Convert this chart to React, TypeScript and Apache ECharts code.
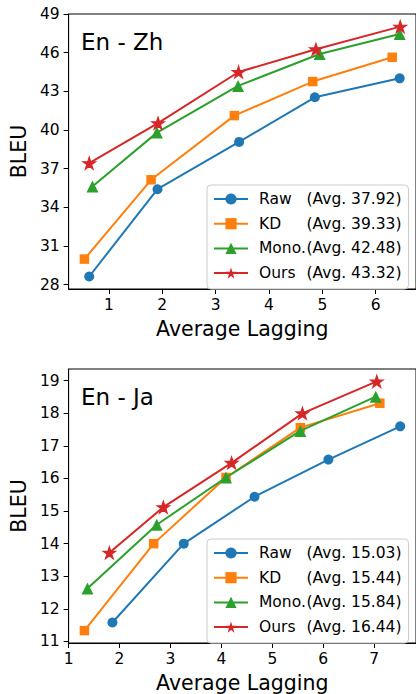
import React, { useEffect, useRef } from "react";
import * as echarts from "echarts";

const seriesNames = ["Raw", "KD", "Mono.", "Ours"];
const colors = ["#1f77b4", "#ff7f0e", "#2ca02c", "#d62728"];

// En - Zh
const rawZhX = [0.63, 1.91, 3.44, 4.86, 6.45];
const rawZhY = [28.64, 35.41, 39.08, 42.54, 44.01];
const kdZhX = [0.54, 1.79, 3.35, 4.82, 6.31];
const kdZhY = [29.99, 36.14, 41.12, 43.76, 45.64];
const monoZhX = [0.69, 1.9, 3.42, 4.95, 6.45];
const monoZhY = [35.62, 39.8, 43.42, 45.9, 47.45];
const oursZhX = [0.63, 1.92, 3.43, 4.88, 6.46];
const oursZhY = [37.43, 40.53, 44.5, 46.26, 48.02];
const avgZh = ["37.92", "39.33", "42.48", "43.32"];

// En - Ja
const rawJaX = [1.86, 3.26, 4.65, 6.1, 7.51];
const rawJaY = [11.58, 14.0, 15.44, 16.58, 17.6];
const kdJaX = [1.31, 2.67, 4.09, 5.55, 7.11];
const kdJaY = [11.33, 14.0, 16.03, 17.56, 18.31];
const monoJaX = [1.37, 2.73, 4.09, 5.55, 7.03];
const monoJaY = [12.62, 14.58, 16.03, 17.46, 18.51];
const oursJaX = [1.8, 2.86, 4.2, 5.59, 7.05];
const oursJaY = [13.72, 15.12, 16.48, 18.0, 18.98];
const avgJa = ["15.03", "15.44", "15.84", "16.44"];

const zhXTicks = [1, 2, 3, 4, 5, 6];
const zhYTicks = [28, 31, 34, 37, 40, 43, 46, 49];
const jaXTicks = [1, 2, 3, 4, 5, 6, 7];
const jaYTicks = [11, 12, 13, 14, 15, 16, 17, 18, 19];

const FONT = "DejaVu Sans";
const STAR =
  "path://M0,-1L0.2245,-0.309L0.9511,-0.309L0.3633,0.118L0.5878,0.809L0,0.382L-0.5878,0.809L-0.3633,0.118L-0.9511,-0.309L-0.2245,-0.309Z";
const symbols = ["circle", "rect", "triangle", STAR];
const symbolSizes: any[] = [10, 9.5, 12, [12.5, 11.9]];
const borderWidths = [0, 0, 0, 1.2];

const zip = (xs: number[], ys: number[]) => xs.map((x, i) => [x, ys[i]]);

export default function App() {
  const ref = useRef<HTMLDivElement>(null);
  useEffect(() => {
    if (!ref.current) return;
    const chart = echarts.init(ref.current, null, { renderer: "svg" });
    const zh = [zip(rawZhX, rawZhY), zip(kdZhX, kdZhY), zip(monoZhX, monoZhY), zip(oursZhX, oursZhY)];
    const ja = [zip(rawJaX, rawJaY), zip(kdJaX, kdJaY), zip(monoJaX, monoJaY), zip(oursJaX, oursJaY)];

    const mkSeries = (data: number[][][], idx: number) =>
      data.map((d, i) => ({
        type: "line",
        name: seriesNames[i],
        xAxisIndex: idx,
        yAxisIndex: idx,
        data: d,
        symbol: symbols[i],
        symbolSize: symbolSizes[i],
        showSymbol: true,
        lineStyle: { color: colors[i], width: 2 },
        itemStyle: { color: colors[i], borderColor: colors[i], borderWidth: borderWidths[i] },
        z: 2 + i,
      }));

    const mkX = (idx: number, min: number, max: number, ticks: number[]) => ({
      type: "value",
      gridIndex: idx,
      min,
      max,
      name: "Average Lagging",
      nameLocation: "middle",
      nameGap: 29,
      nameTextStyle: { fontFamily: FONT, fontSize: 20.5, color: "#000" },
      axisLine: { show: true, onZero: false, lineStyle: { color: "#000", width: 1 } },
      axisTick: { show: true, length: 5, customValues: ticks, lineStyle: { color: "#000" } },
      axisLabel: { customValues: ticks, fontFamily: FONT, fontSize: 15.5, color: "#000", margin: 8 },
      splitLine: { show: false },
    });
    const mkY = (idx: number, min: number, max: number, ticks: number[]) => ({
      type: "value",
      gridIndex: idx,
      min,
      max,
      name: "BLEU",
      nameLocation: "middle",
      nameRotate: 90,
      nameGap: 33,
      nameTextStyle: { fontFamily: FONT, fontSize: 20.5, color: "#000" },
      axisLine: { show: true, onZero: false, lineStyle: { color: "#000", width: 1 } },
      axisTick: { show: true, length: 5, customValues: ticks, lineStyle: { color: "#000" } },
      axisLabel: {
        customValues: ticks,
        fontFamily: FONT,
        fontSize: 15.5,
        color: "#000",
        margin: 9,
        showMinLabel: true,
        showMaxLabel: true,
      },
      splitLine: { show: false },
    });

    const mkLegend = (top: number, avgs: string[]) => ({
      data: seriesNames,
      orient: "vertical",
      left: 207,
      top,
      itemWidth: 34,
      itemHeight: 14,
      itemGap: 8.7,
      padding: [6, 7, 8, 6],
      backgroundColor: "rgba(255,255,255,0.8)",
      borderColor: "#cccccc",
      borderWidth: 1,
      borderRadius: 4,
      selectedMode: false,
      itemStyle: { borderWidth: 0 },
      formatter: (name: string) => `{a|${name}}{b|(Avg. ${avgs[seriesNames.indexOf(name)]})}`,
      textStyle: {
        fontFamily: FONT,
        fontSize: 15.5,
        color: "#000",
        lineHeight: 14,
        padding: [0, 0, 0, 6],
        rich: {
          a: { width: 47.5, fontFamily: FONT, fontSize: 15.5, color: "#000", lineHeight: 14 },
          b: { fontFamily: FONT, fontSize: 15.5, color: "#000", lineHeight: 14 },
        },
      },
    });

    chart.setOption({
      animation: false,
      backgroundColor: "#fff",
      grid: [
        { left: 62, top: 14, width: 356, height: 275, show: true, borderColor: "#000", borderWidth: 1, backgroundColor: "transparent" },
        { left: 62, top: 369, width: 356, height: 275, show: true, borderColor: "#000", borderWidth: 1, backgroundColor: "transparent" },
      ],
      xAxis: [mkX(0, 0.244, 6.756, zhXTicks), mkX(1, 1.0, 7.82, jaXTicks)],
      yAxis: [mkY(0, 27.67, 49.0, zhYTicks), mkY(1, 10.95, 19.36, jaYTicks)],
      legend: [mkLegend(185, avgZh), mkLegend(539, avgJa)],
      graphic: [
        { type: "text", left: 81, top: 30, style: { text: "En - Zh", fontFamily: FONT, fontSize: 23, fill: "#000" } },
        { type: "text", left: 81, top: 385, style: { text: "En - Ja", fontFamily: FONT, fontSize: 23, fill: "#000" } },
      ],
      series: [...mkSeries(zh, 0), ...mkSeries(ja, 1)],
    });
    return () => chart.dispose();
  }, []);
  return <div ref={ref} style={{ position: "fixed", left: 0, top: 0, width: 416, height: 694 }} />;
}
